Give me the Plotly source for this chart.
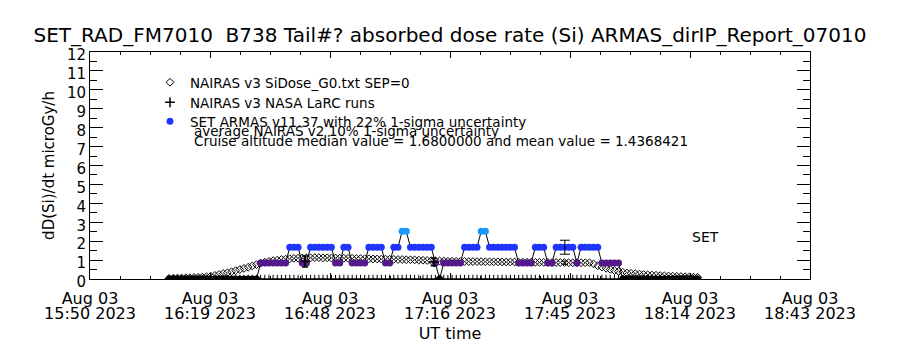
import plotly.graph_objects as go
import pandas as pd

# ---------------- data ----------------
title_text = "SET_RAD_FM7010\u00a0 B738 Tail#? absorbed dose rate (Si) ARMAS_dirIP_Report_07010"

sample_start = "2023-08-03 16:09:00"   # 1-minute samples

armas_vals = [
    0, 0, 0, 0, 0, 0, 0, 0, 0, 0, 0, 0, 0, 0, 0, 0, 0, 0, 0, 0, 0, 0,
    0.84, 0.84, 0.84, 0.84, 0.84, 0.84, 0.84,
    1.68, 1.68, 1.68,
    0.84, 0.84,
    1.68, 1.68, 1.68, 1.68, 1.68, 1.68,
    0.84, 0.84,
    1.68, 1.68,
    0.84, 0.84, 0.84, 0.84,
    1.68, 1.68, 1.68, 1.68,
    0.84, 0.84,
    1.68, 1.68,
    2.52, 2.52,
    1.68, 1.68, 1.68, 1.68, 1.68, 1.68,
    0.84,
    0,
    0.84, 0.84, 0.84, 0.84, 0.84,
    1.68, 1.68, 1.68, 1.68,
    2.52, 2.52,
    1.68, 1.68, 1.68, 1.68, 1.68, 1.68, 1.68,
    0.84, 0.84, 0.84, 0.84,
    1.68, 1.68, 1.68,
    0.84, 0.84,
    1.68, 1.68, 1.68, 1.68, 1.68,
    0.84,
    1.68, 1.68, 1.68, 1.68, 1.68,
    0.84, 0.84, 0.84, 0.84, 0.84,
    0, 0, 0, 0, 0, 0, 0, 0, 0, 0, 0, 0, 0, 0, 0, 0, 0, 0, 0,
]

nairas_vals = [
    0.03, 0.04, 0.05, 0.05, 0.06, 0.07, 0.08, 0.09, 0.10, 0.12, 0.15,
    0.19, 0.24, 0.29, 0.33, 0.38, 0.44, 0.50, 0.56, 0.62, 0.69, 0.76, 0.84,
    0.89, 0.93, 0.97, 1.00, 1.03, 1.05, 1.07, 1.09, 1.10,
    1.11, 1.12, 1.12, 1.13, 1.13, 1.12, 1.12, 1.11, 1.11, 1.10, 1.10, 1.09,
    1.09, 1.08, 1.08, 1.07, 1.07, 1.06, 1.06, 1.05, 1.05, 1.04, 1.04, 1.03,
    1.03, 1.02, 1.02, 1.01, 1.00, 0.99, 0.98, 0.97,
    0.96, 0.95, 0.95, 0.94, 0.94, 0.93, 0.93, 0.93, 0.92, 0.92, 0.92, 0.92,
    0.91, 0.91, 0.91, 0.91, 0.90, 0.90,
    0.90, 0.90, 0.89, 0.89, 0.89, 0.89, 0.88, 0.88, 0.88, 0.88, 0.87, 0.87,
    0.87, 0.87, 0.86, 0.86, 0.86, 0.86, 0.86,
    0.86, 0.80, 0.70, 0.63, 0.57, 0.51, 0.45, 0.40, 0.36, 0.32, 0.30, 0.28,
    0.26, 0.24, 0.22, 0.21, 0.20, 0.18, 0.17, 0.16, 0.15, 0.14, 0.13, 0.12,
    0.11, 0.10, 0.09,
]

larc_baseline_vals = [0.0] * len(nairas_vals)

larc_times = ["2023-08-03 16:41:40", "2023-08-03 17:12:36"]
larc_vals = [0.92, 0.90]
larc_err = [0.29, 0.20]

median_time = "2023-08-03 17:44:06"
armas_median = 1.68
armas_sigma = 0.22
nairas_avg = 0.86
nairas_sigma = 0.10

level_colors = {0: "#000000", 0.84: "#55198c", 1.68: "#1f35ff", 2.52: "#1a98ff"}

x_range = ["2023-08-03 15:50:00", "2023-08-03 18:43:00"]
x_tickvals = ["2023-08-03 15:50:00", "2023-08-03 16:18:50", "2023-08-03 16:47:40",
              "2023-08-03 17:16:30", "2023-08-03 17:45:20", "2023-08-03 18:14:10",
              "2023-08-03 18:43:00"]
x_tick_line1 = ["Aug 03", "Aug 03", "Aug 03", "Aug 03", "Aug 03", "Aug 03", "Aug 03"]
x_tick_line2 = ["15:50 2023", "16:19 2023", "16:48 2023", "17:16 2023",
                "17:45 2023", "18:14 2023", "18:43 2023"]
y_tickvals = [0, 1, 2, 3, 4, 5, 6, 7, 8, 9, 10, 11, 12]

legend_names = ["NAIRAS v3 SiDose_G0.txt SEP=0", "NAIRAS v3 NASA LaRC runs",
                "SET ARMAS v11.37 with 22% 1-sigma uncertainty"]
note_lines = ["average NAIRAS v2 10% 1-sigma uncertainty",
              "Cruise altitude median value = 1.6800000 and mean value = 1.4368421"]

# ---------------- figure ----------------
FONT = "DejaVu Sans"
LEG_FONT = 13.5
times = pd.date_range(sample_start, periods=len(armas_vals), freq="1min")
minor_ticks = pd.date_range(x_range[0], x_range[1], periods=25)

fig = go.Figure()

# LaRC baseline crosses (drawn on the overlaid x2 axis, identical range)
fig.add_trace(go.Scatter(
    x=times, y=larc_baseline_vals, mode="markers", showlegend=False, xaxis="x2", yaxis="y",
    marker=dict(symbol="cross-thin", size=6, line=dict(width=1, color="black"), color="black"),
))
fig.add_trace(go.Scatter(
    x=times, y=nairas_vals, mode="markers", name=legend_names[0], legend="legend",
    marker=dict(symbol="diamond-open", size=6, color="black", line=dict(width=1, color="black")),
))
fig.add_trace(go.Scatter(
    x=times, y=armas_vals, mode="lines", showlegend=False,
    line=dict(color="black", width=1),
))
for lev, col in level_colors.items():
    sel = [i for i, v in enumerate(armas_vals) if v == lev]
    fig.add_trace(go.Scatter(
        x=[times[i] for i in sel], y=[armas_vals[i] for i in sel], mode="markers",
        showlegend=False, marker=dict(symbol="circle", size=7, color=col),
    ))
fig.add_trace(go.Scatter(
    x=pd.to_datetime(larc_times), y=larc_vals, mode="markers", name=legend_names[1],
    legend="legend2",
    marker=dict(symbol="cross-thin", size=7, line=dict(width=1.5, color="black"), color="black"),
    error_y=dict(type="data", array=larc_err, color="black", thickness=1.5, width=3),
))
fig.add_trace(go.Scatter(
    x=[pd.Timestamp(median_time)], y=[armas_median], mode="markers", showlegend=False,
    marker=dict(size=1, color="black"),
    error_y=dict(type="percent", value=armas_sigma * 100, color="black", thickness=1, width=5),
))
fig.add_trace(go.Scatter(
    x=[pd.Timestamp(median_time)], y=[nairas_avg], mode="markers", showlegend=False,
    marker=dict(size=1, color="black"),
    error_y=dict(type="percent", value=nairas_sigma * 100, color="black", thickness=1, width=3),
))
# legend entry for ARMAS (blue level symbol)
fig.add_trace(go.Scatter(
    x=[None], y=[None], mode="markers", name=legend_names[2], legend="legend3",
    marker=dict(symbol="circle", size=7, color=level_colors[1.68]),
))


def leg(center_px):
    return dict(x=(150 - 90) / 720, y=(279 - (center_px - 13)) / 227, xanchor="left",
                yanchor="top", bgcolor="rgba(0,0,0,0)", itemclick=False,
                font=dict(size=LEG_FONT, family=FONT, color="black"))


fig.update_layout(
    width=900, height=350,
    margin=dict(l=90, r=90, t=52, b=71, autoexpand=False),
    paper_bgcolor="white", plot_bgcolor="white",
    font=dict(family=FONT, color="black", size=14),
    title=dict(text=title_text, x=0.5, xanchor="center", y=1 - 35 / 350, yanchor="middle",
               yref="container", font=dict(size=20, family=FONT, color="black")),
    showlegend=True,
    legend=leg(80), legend2=leg(100), legend3=leg(119),
    xaxis=dict(
        type="date", range=x_range, tickmode="array", tickvals=x_tickvals,
        ticktext=x_tick_line1, tickangle=0, automargin=False,
        showline=True, linecolor="black", linewidth=1, mirror="ticks",
        ticks="inside", ticklen=6, tickcolor="black", tickwidth=1,
        minor=dict(tickmode="array", tickvals=list(minor_ticks), ticks="inside",
                   ticklen=3, tickcolor="black", tickwidth=1, showgrid=False),
        showgrid=False, zeroline=False, tickfont=dict(size=16),
        ticklabelstandoff=5,
    ),
    xaxis2=dict(
        type="date", range=x_range, overlaying="x", anchor="y", side="bottom",
        tickmode="array", tickvals=x_tickvals, ticktext=x_tick_line2, tickangle=0,
        showline=False, ticks="", showgrid=False, zeroline=False, automargin=False,
        tickfont=dict(size=16), ticklabelstandoff=23,
        title=dict(text="UT time", font=dict(size=16), standoff=5),
    ),
    yaxis=dict(
        range=[0, 12], tickmode="array", tickvals=y_tickvals, automargin=False,
        showline=True, linecolor="black", linewidth=1, mirror="ticks",
        ticks="inside", ticklen=13, tickcolor="black", tickwidth=1,
        minor=dict(dtick=0.5, ticks="inside", ticklen=7, tickcolor="black", tickwidth=1,
                   showgrid=False),
        showgrid=False, zeroline=False, tickfont=dict(size=15), ticklabelshift=3,
        title=dict(text="dD(Si)/dt microGy/h", font=dict(size=15), standoff=8),
    ),
    annotations=[
        dict(text=note_lines[0], xref="paper", yref="paper", x=(192 - 90) / 720,
             y=(279 - 131) / 227, xanchor="left", yanchor="middle", showarrow=False,
             font=dict(size=LEG_FONT)),
        dict(text=note_lines[1], xref="paper", yref="paper", x=(192 - 90) / 720,
             y=(279 - 141) / 227, xanchor="left", yanchor="middle", showarrow=False,
             font=dict(size=LEG_FONT)),
        dict(text="SET", xref="paper", yref="paper", x=(690 - 90) / 720,
             y=(279 - 237) / 227, xanchor="left", yanchor="middle", showarrow=False,
             font=dict(size=14)),
    ],
)

fig.write_html("out.html")
